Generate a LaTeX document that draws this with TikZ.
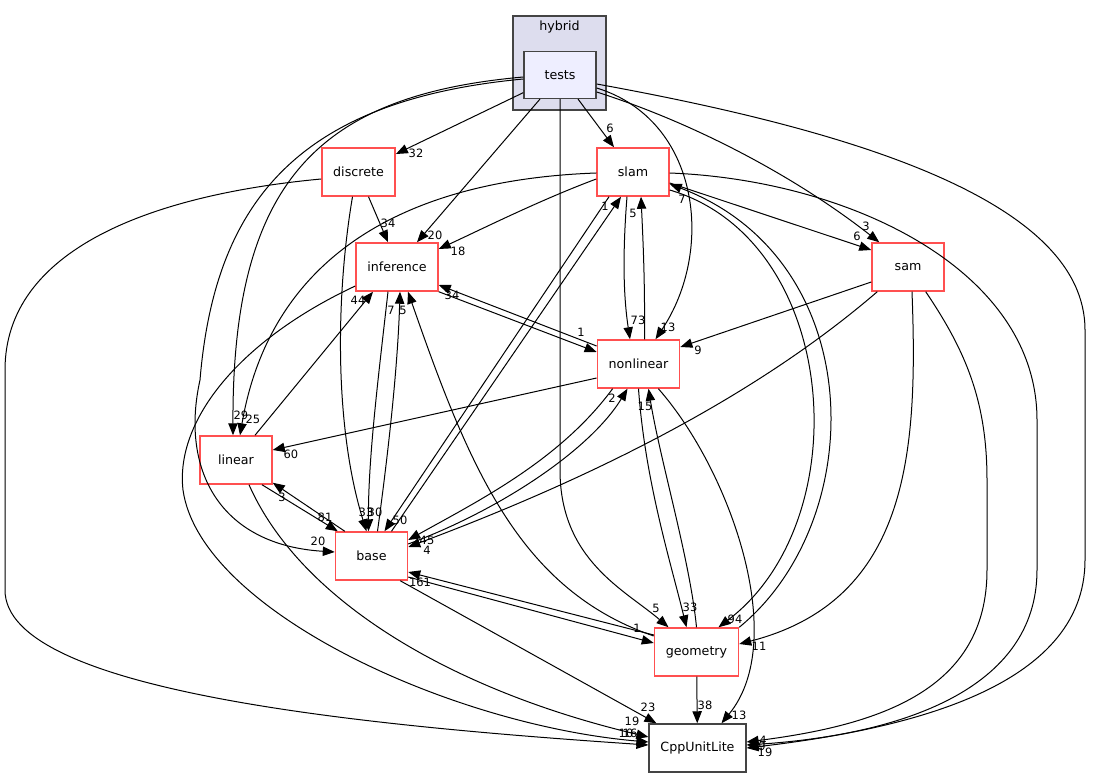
\documentclass[tikz,border=0pt]{standalone}
\usepackage{fontspec}
\setmainfont{DejaVu Sans}
\usepackage{tikz}
\usetikzlibrary{arrows.meta,positioning,calc}

\definecolor{boxred}{RGB}{255,80,80}
\definecolor{boxgray}{RGB}{68,68,68}
\definecolor{clusterfill}{RGB}{221,221,238}
\definecolor{testsfill}{RGB}{238,238,255}

\tikzset{
  dirbox/.style={draw=boxred, fill=white, line width=1.1pt, minimum width=54pt,
    minimum height=36pt, inner xsep=8.5pt, font=\fontsize{9.5}{11}\selectfont},
  graybox/.style={dirbox, draw=boxgray},
  testsbox/.style={dirbox, draw=boxgray, fill=testsfill, minimum height=35pt},
  clusterbox/.style={draw=boxgray, fill=clusterfill, line width=0.8pt,
    minimum width=69.75pt, minimum height=70.5pt, inner sep=0pt},
  dep/.style={line width=0.75pt, -{Triangle[length=9pt,width=7pt]}},
  lbl/.style={font=\fontsize{8.6}{9}\selectfont, inner sep=0pt},
}

\begin{document}
\begin{tikzpicture}[x=0.75pt, y=-0.75pt]
    \useasboundingbox (0,0) rectangle (1093,777);

    % Cluster
    \node[clusterbox] (hybrid) at (559.5,63) {};
    \node[font=\fontsize{9.5}{11}\selectfont] (hybridlbl) at (559.5,27) {hybrid};
    \node[testsbox] (tests) at (560,75) {tests};

    % Directories
    \node[dirbox] (discrete) at (358.5,172) {discrete};
    \node[dirbox] (slam) at (633,172) {slam};
    \node[dirbox] (inference) at (397,267) {inference};
    \node[dirbox] (sam) at (908,267) {sam};
    \node[dirbox] (nonlinear) at (638.5,364) {nonlinear};
    \node[dirbox] (linear) at (236,460) {linear};
    \node[dirbox] (base) at (371.5,556) {base};
    \node[dirbox] (geometry) at (696.5,652) {geometry};
    \node[graybox] (cpp) at (697.5,748) {CppUnitLite};

    % From tests
    \draw[dep] (tests) -- (discrete) node[lbl] at (416,153) {32};
    \draw[dep] ($(tests.south)+(-20,0)$) -- ($(inference.north)+(20,0)$) node[lbl] at (435,235) {20};
    \draw[dep] ($(tests.south)+(18,0)$) -- ($(slam.north)+(-19,0)$) node[lbl] at (610,128) {6};
    \draw[dep] ($(tests.east)+(0,13)$) .. controls (700,120) and (715,250) .. ($(nonlinear.north)+(17,0)$) node[lbl] at (668,327) {13};
    \draw[dep] ($(tests.east)+(0,17)$) .. controls (700,125) and (800,180) .. ($(sam.north west)+(8,0)$) node[lbl] at (866,226) {3};
    \draw[dep] ($(tests.west)+(0,2)$) .. controls (320,95) and (232,180) .. ($(linear.north)+(-3,0)$) node[lbl] at (241,415) {29};
    \draw[dep] ($(tests.west)+(0,4)$) .. controls (300,100) and (215,200) .. (200,380) .. controls (180,470) and (220,545) .. ($(base.west)+(0,-4)$) node[lbl] at (318,541) {20};
    \draw[dep] (tests.south) -- (560,470) .. controls (560,560) and (625,590) .. ($(geometry.north)+(-28,0)$) node[lbl] at (656,608) {5};
    \draw[dep] ($(tests.east)+(0,9)$) .. controls (850,130) and (1085,200) .. (1085,330) -- (1085,560) .. controls (1085,690) and (900,730) .. (cpp.east) node[lbl] at (765,752) {19};

    % From discrete
    \draw[dep] ($(discrete.south)+(10,0)$) -- ($(inference.north)+(-9,0)$) node[lbl] at (388,223) {34};
    \draw[dep] ($(discrete.south)+(-6,0)$) .. controls (335,300) and (335,430) .. ($(base.north)+(-5,0)$) node[lbl] at (366,512) {33};
    \draw[dep] ($(discrete.west)+(0,7)$) .. controls (150,195) and (5,250) .. (5,370) -- (5,590) .. controls (5,690) and (350,725) .. ($(cpp.west)+(0,-3)$) node[lbl] at (630,733) {16};

    % From slam
    \draw[dep] ($(slam.west)+(0,7)$) .. controls (540,200) and (480,230) .. ($(inference.east)+(0,-18)$) node[lbl] at (458,251) {18};
    \draw[dep] ($(slam.west)+(0,1)$) .. controls (400,180) and (270,260) .. ($(linear.north)+(4,0)$) node[lbl] at (253,419) {25};
    \draw[dep] ($(slam.south)+(-6,0)$) .. controls (622,260) and (624,300) .. ($(nonlinear.north)+(-8.5,0)$) node[lbl] at (638,320) {73};
    \draw[dep] ($(slam.east)+(0,11)$) -- ($(sam.west)+(0,-17)$) node[lbl] at (857,236) {6};
    \draw[dep] ($(slam.east)+(0,18)$) .. controls (840,240) and (860,520) .. ($(geometry.north)+(22,0)$) node[lbl] at (735,619) {94};
    \draw[dep] ($(slam.south)+(-24,0)$) -- ($(base.north)+(13,0)$) node[lbl] at (400,520) {50};
    \draw[dep] ($(slam.east)+(0,1)$) .. controls (850,180) and (1037,270) .. (1037,420) -- (1037,570) .. controls (1037,690) and (900,735) .. ($(cpp.east)+(0,-3)$) node[lbl] at (762,746) {9};

    % From inference
    \draw[dep] (inference.south east) -- ($(nonlinear.west)+(0,-12)$) node[lbl] at (581,332) {1};
    \draw[dep] ($(inference.south)+(-9,0)$) .. controls (378,380) and (368,460) .. ($(base.north)+(-3,0)$) node[lbl] at (375,512) {30};
    \draw[dep] ($(inference.west)+(0,19)$) .. controls (240,340) and (175,420) .. (183,490) .. controls (200,610) and (450,725) .. ($(cpp.west)+(0,-6)$) node[lbl] at (626,733) {10};

    % From sam
    \draw[dep] ($(sam.west)+(0,15)$) -- ($(nonlinear.east)+(0,-17)$) node[lbl] at (698,350) {9};
    \draw[dep] ($(sam.south west)+(6,0)$) .. controls (740,410) and (560,490) .. ($(base.east)+(0,-9)$) node[lbl] at (427,550) {4};
    \draw[dep] ($(sam.south)+(4,0)$) .. controls (918,450) and (910,600) .. ($(geometry.east)+(0,-8)$) node[lbl] at (759,646) {11};
    \draw[dep] ($(sam.south east)+(-19,0)$) .. controls (965,350) and (987,400) .. (987,480) -- (987,570) .. controls (987,690) and (880,725) .. ($(cpp.east)+(0,-6)$) node[lbl] at (763,740) {4};

    % From nonlinear
    \draw[dep] ($(nonlinear.north)+(6,0)$) .. controls (645,280) and (643,240) .. ($(slam.south)+(8,0)$) node[lbl] at (633,213) {5};
    \draw[dep] ($(nonlinear.west)+(0,-18)$) -- ($(inference.east)+(0,18)$) node[lbl] at (452,295) {34};
    \draw[dep] ($(nonlinear.west)+(0,14)$) -- ($(linear.east)+(0,-10)$) node[lbl] at (291,454) {60};
    \draw[dep] ($(nonlinear.south west)+(16,0)$) .. controls (560,460) and (480,500) .. ($(base.east)+(0,-16)$) node[lbl] at (427,540) {45};
    \draw[dep] (nonlinear.south) .. controls (645,480) and (670,560) .. ($(geometry.north)+(-10,0)$) node[lbl] at (690,607) {33};
    \draw[dep] ($(nonlinear.south east)+(-22,0)$) .. controls (730,470) and (790,640) .. ($(cpp.north)+(24,0)$) node[lbl] at (739,715) {13};

    % From linear
    \draw[dep] ($(linear.north)+(19,0)$) -- ($(inference.south)+(-24,0)$) node[lbl] at (358,300) {44};
    \draw[dep] ($(linear.south)+(26,0)$) -- ($(base.north west)+(3,0)$) node[lbl] at (325,517) {81};
    \draw[dep] ($(linear.south)+(13,0)$) .. controls (300,600) and (450,690) .. ($(cpp.west)+(0,-11)$) node[lbl] at (632,721) {19};

    % From base
    \draw[dep] ($(base.north)+(6,0)$) .. controls (390,440) and (398,360) .. ($(inference.south)+(3,0)$) node[lbl] at (391,310) {7};
    \draw[dep] ($(base.north)+(20,0)$) -- ($(slam.south)+(-12,0)$) node[lbl] at (605,206) {1};
    \draw[dep] ($(base.north west)+(10,0)$) -- ($(linear.south east)+(0,-2)$) node[lbl] at (282,497) {3};
    \draw[dep] ($(base.east)+(0,-12)$) .. controls (500,510) and (590,450) .. ($(nonlinear.south)+(-11,0)$) node[lbl] at (612,398) {2};
    \draw[dep] ($(base.east)+(0,21)$) -- ($(geometry.west)+(0,-9)$) node[lbl] at (637,628) {1};
    \draw[dep] ($(base.south east)+(-8,0)$) -- ($(cpp.north west)+(8,0)$) node[lbl] at (648,707) {23};

    % From geometry
    \draw[dep] (geometry.north east) .. controls (870,520) and (870,260) .. ($(slam.east)+(0,12)$) node[lbl] at (682,199) {7};
    \draw[dep] ($(geometry.west)+(0,-16)$) .. controls (520,590) and (470,470) .. ($(inference.south)+(11,0)$) node[lbl] at (403,310) {5};
    \draw[dep] (geometry.north) .. controls (690,560) and (660,460) .. ($(nonlinear.south)+(10,0)$) node[lbl] at (645,406) {15};
    \draw[dep] ($(geometry.west)+(0,-17)$) -- ($(base.east)+(0,16)$) node[lbl] at (420,582) {161};
    \draw[dep] (geometry) -- (cpp) node[lbl] at (705,705) {38};
\end{tikzpicture}
\end{document}
